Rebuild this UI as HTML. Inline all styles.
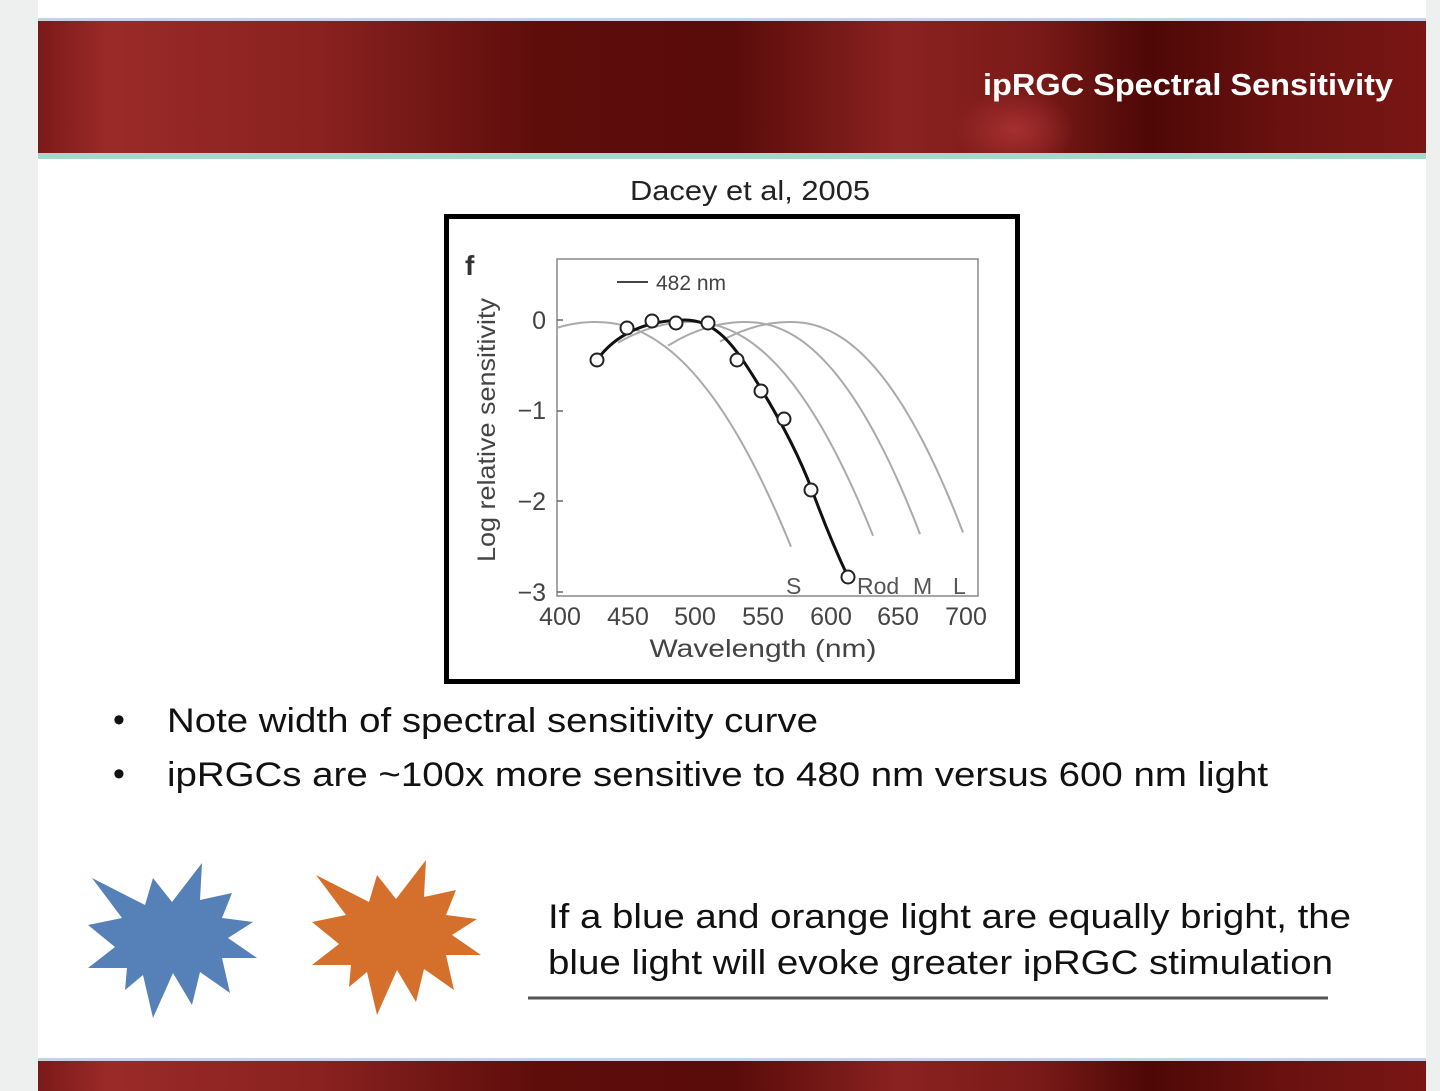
<!DOCTYPE html>
<html><head><meta charset="utf-8"><style>
html,body{margin:0;padding:0;background:#eef0f0;}
svg{display:block;}
text{font-family:"Liberation Sans",Arial,sans-serif;}
</style></head><body>
<svg id="s" width="1440" height="1091" viewBox="0 0 1440 1091" xmlns="http://www.w3.org/2000/svg">
<defs>
<linearGradient id="hg" x1="0" x2="1" y1="0" y2="0">
<stop offset="0" stop-color="#7a1a18"/>
<stop offset="0.05" stop-color="#9a2a28"/>
<stop offset="0.2" stop-color="#8a2220"/>
<stop offset="0.36" stop-color="#5e0d0b"/>
<stop offset="0.5" stop-color="#5a0c0a"/>
<stop offset="0.62" stop-color="#8a2220"/>
<stop offset="0.72" stop-color="#7a1a18"/>
<stop offset="0.8" stop-color="#4e0806"/>
<stop offset="0.9" stop-color="#6a1210"/>
<stop offset="1" stop-color="#7a1614"/>
</linearGradient>
<radialGradient id="spot" cx="0.5" cy="0.5" r="0.5">
<stop offset="0" stop-color="#b03535" stop-opacity="0.8"/>
<stop offset="1" stop-color="#b03535" stop-opacity="0"/>
</radialGradient>
<clipPath id="hc"><rect x="38" y="20" width="1388" height="133"/></clipPath>
</defs>
<rect x="38" y="0" width="1388" height="1091" fill="#fff"/>
<rect x="38" y="20" width="1388" height="134" fill="url(#hg)"/>
<ellipse cx="1015" cy="130" rx="60" ry="40" fill="url(#spot)" clip-path="url(#hc)"/>
<rect x="38" y="153" width="1388" height="6" fill="#a9d6cc"/>
<rect x="38" y="18" width="1388" height="3" fill="#c7d3e3"/>
<text x="1393" y="95" text-anchor="end" font-size="31" font-weight="bold" fill="#fff" textLength="410" lengthAdjust="spacingAndGlyphs">ipRGC Spectral Sensitivity</text>

<rect x="38" y="1060" width="1388" height="31" fill="url(#hg)"/>
<rect x="38" y="1058" width="1388" height="3" fill="#c7d3e3"/>

<text x="750" y="200" text-anchor="middle" font-size="28" fill="#222" textLength="240" lengthAdjust="spacingAndGlyphs">Dacey et al, 2005</text>
<rect x="446.5" y="216.5" width="571" height="465" fill="#fff" stroke="#000" stroke-width="5"/>
<rect x="557" y="259" width="421" height="337" fill="none" stroke="#888" stroke-width="1.5"/>
<text x="465" y="275" font-size="28" font-weight="bold" fill="#333">f</text>
<line x1="617" y1="282" x2="648" y2="282" stroke="#444" stroke-width="2"/>
<text x="656" y="290" font-size="21" fill="#444">482 nm</text>
<g font-size="25" fill="#444" text-anchor="end">
<text x="546" y="329">0</text><text x="546" y="419">−1</text><text x="546" y="510">−2</text><text x="546" y="601">−3</text>
</g>
<g stroke="#666" stroke-width="1.5">
<line x1="557" y1="320" x2="563" y2="320"/><line x1="557" y1="411" x2="563" y2="411"/><line x1="557" y1="501" x2="563" y2="501"/><line x1="557" y1="592" x2="563" y2="592"/>
</g>
<g font-size="25" fill="#444" text-anchor="middle">
<text x="560" y="625">400</text><text x="628" y="625">450</text><text x="695" y="625">500</text><text x="763" y="625">550</text><text x="831" y="625">600</text><text x="898" y="625">650</text><text x="966" y="625">700</text>
</g>
<text x="763" y="657" text-anchor="middle" font-size="25" fill="#444" textLength="227" lengthAdjust="spacingAndGlyphs">Wavelength (nm)</text>
<text transform="translate(495,430) rotate(-90)" text-anchor="middle" font-size="25" fill="#444" textLength="264" lengthAdjust="spacingAndGlyphs">Log relative sensitivity</text>
<g font-size="23" fill="#555">
<text x="786" y="594">S</text><text x="857" y="594">Rod</text><text x="913" y="594">M</text><text x="953" y="594">L</text>
</g>
<g id="gray" fill="none" stroke="#aaa" stroke-width="2"></g>
<path fill="none" stroke="#111" stroke-width="3" d="M597,360 C615,335 645,320 685,320 C712,320 730,340 748,368 C770,402 795,445 812,490 C826,528 840,560 848,577"/>
<g id="pts" fill="#fff" stroke="#222" stroke-width="2"></g>

<g font-size="34" fill="#111">
<text x="113" y="731">•</text>
<text x="167" y="732" textLength="651" lengthAdjust="spacingAndGlyphs">Note width of spectral sensitivity curve</text>
<text x="113" y="785">•</text>
<text x="167" y="786" textLength="1101" lengthAdjust="spacingAndGlyphs">ipRGCs are ~100x more sensitive to 480 nm versus 600 nm light</text>
<text x="548" y="928" textLength="803" lengthAdjust="spacingAndGlyphs">If a blue and orange light are equally bright, the</text>
<text x="548" y="974" textLength="785" lengthAdjust="spacingAndGlyphs">blue light will evoke greater ipRGC stimulation</text>
</g>
<line x1="528" y1="998" x2="1328" y2="998" stroke="#555" stroke-width="3"/>
<polygon fill="#5580b8" points="92,878 145,905 153,878 172,902 202,863 200,900 232,893 222,918 253,922 228,938 257,958 222,958 230,993 200,972 192,1005 173,973 153,1018 143,975 125,990 127,968 88,968 115,947 88,925 122,918"/>
<polygon fill="#d5702c" transform="translate(224,-3)" points="92,878 145,905 153,878 172,902 202,863 200,900 232,893 222,918 253,922 228,938 257,958 222,958 230,993 200,972 192,1005 173,973 153,1018 143,975 125,990 127,968 88,968 115,947 88,925 122,918"/>
</svg>
<script>
var NS="http://www.w3.org/2000/svg";
var g=document.getElementById('gray');
function cur(x0,xp,yp,k,x1){var d="";for(var x=x0;x<=x1;x+=3){var dx=x-xp;var y=yp+(dx>0?k*Math.pow(dx,2.15)/Math.pow(60,0.15):0.004*dx*dx);d+=(d?"L":"M")+x+","+y.toFixed(1);}var p=document.createElementNS(NS,'path');p.setAttribute('d',d);g.appendChild(p);}
cur(557,595,322,0.0049,793);
cur(618,690,322,0.0054,873);
cur(668,745,322,0.0059,920);
cur(720,790,322,0.006,963);
var P=[[597,360],[627,328],[652,321],[676,323],[708,323],[737,360],[761,391],[784,419],[811,490],[848,577]];
var pts=document.getElementById('pts');
P.forEach(function(q){var c=document.createElementNS(NS,'circle');c.setAttribute('cx',q[0]);c.setAttribute('cy',q[1]);c.setAttribute('r',6.5);pts.appendChild(c);});
</script>
</body></html>
